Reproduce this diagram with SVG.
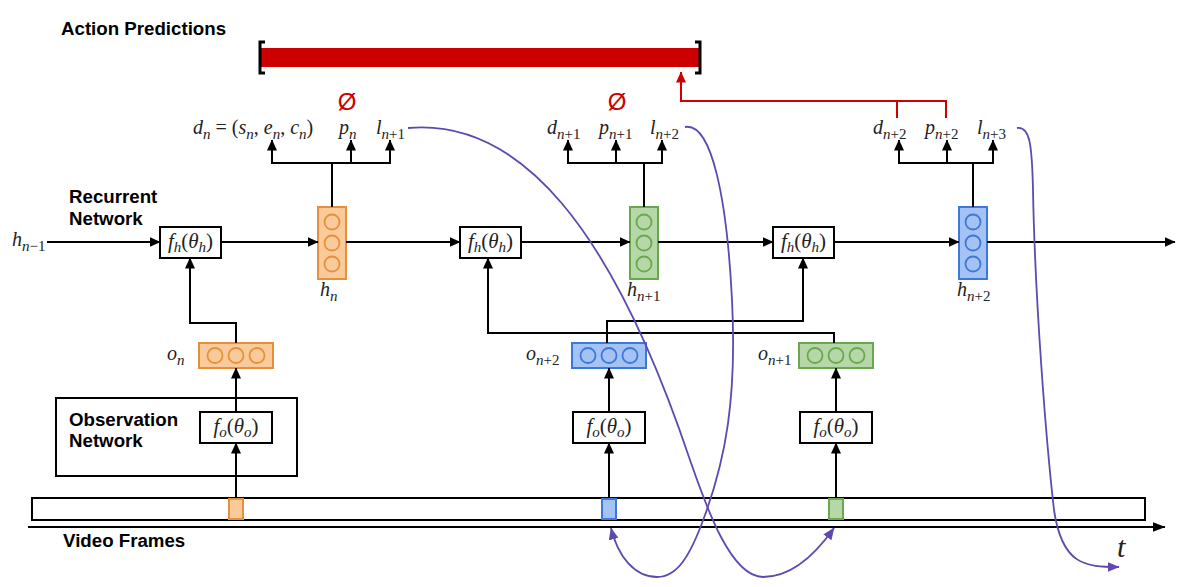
<svg xmlns="http://www.w3.org/2000/svg" width="1193" height="587" viewBox="0 0 1193 587">
<defs>
<style>
.bt{font-family:"Liberation Sans",Arial,sans-serif;font-weight:bold;font-size:18.7px;fill:#000}
.m{font-family:"Liberation Serif","Times New Roman",serif;font-size:20px;fill:#222}
.bx{font-size:21px}
.i{font-style:italic}
.s{font-size:15px}
.box{fill:#fff;stroke:#000;stroke-width:2}
.ln{fill:none;stroke:#000;stroke-width:2}
.pl{fill:none;stroke:#5f48b0;stroke-width:1.8}
.rd{fill:none;stroke:#cc0000;stroke-width:2}
.or{fill:#f9cb9c;stroke:#e69138;stroke-width:2}
.orc{fill:none;stroke:#e69138;stroke-width:1.8}
.gr{fill:#b6d7a8;stroke:#6aa84f;stroke-width:2}
.grc{fill:none;stroke:#6aa84f;stroke-width:1.8}
.bl{fill:#a4c2f4;stroke:#3c78d8;stroke-width:2}
.blc{fill:none;stroke:#3c78d8;stroke-width:1.8}
.null{font-family:"Liberation Sans",Arial,sans-serif;font-size:24px;fill:#cc0000}
</style>
<marker id="ah" markerUnits="userSpaceOnUse" markerWidth="11" markerHeight="10" refX="10.5" refY="5" orient="auto"><path d="M0,0 L11,5 L0,10 z" fill="#000"/></marker>
<marker id="aht" markerUnits="userSpaceOnUse" markerWidth="13" markerHeight="10" refX="12.5" refY="5" orient="auto"><path d="M0,0 L13,5 L0,10 z" fill="#000"/></marker>
<marker id="ahr" markerUnits="userSpaceOnUse" markerWidth="11" markerHeight="10" refX="10.5" refY="5" orient="auto"><path d="M0,0 L11,5 L0,10 z" fill="#cc0000"/></marker>
<marker id="ahp" markerUnits="userSpaceOnUse" markerWidth="12" markerHeight="10" refX="11.5" refY="5" orient="auto"><path d="M0,0 L12,5 L0,10 z" fill="#5f48b0"/></marker>
</defs>
<rect width="1193" height="587" fill="#fff"/>

<!-- Titles -->
<g id="title-action"><text class="bt" x="61" y="35">Action Predictions</text></g>
<g id="title-recurrent"><text class="bt" x="69" y="203">Recurrent</text><text class="bt" x="69" y="225">Network</text></g>

<!-- Prediction bar -->
<g id="prediction-bar">
<rect x="261" y="48" width="438" height="19" fill="#cc0000"/>
<path d="M265,42 H260 V73 H265" fill="none" stroke="#000" stroke-width="3"/>
<path d="M695,42 H700 V73 H695" fill="none" stroke="#000" stroke-width="3"/>
</g>

<g id="null-1"><text class="null" x="347" y="110" text-anchor="middle">Ø</text></g>
<g id="null-2"><text class="null" x="617" y="110" text-anchor="middle">Ø</text></g>

<!-- Output labels -->
<g id="outputs-n">
<text class="m" x="193" y="134"><tspan class="i">d</tspan><tspan class="s i" dy="5">n</tspan><tspan dy="-5"> = (</tspan><tspan class="i">s</tspan><tspan class="s i" dy="5">n</tspan><tspan dy="-5">, </tspan><tspan class="i">e</tspan><tspan class="s i" dy="5">n</tspan><tspan dy="-5">, </tspan><tspan class="i">c</tspan><tspan class="s i" dy="5">n</tspan><tspan dy="-5">)</tspan></text>
<text class="m" x="339" y="134"><tspan class="i">p</tspan><tspan class="s i" dy="5">n</tspan></text>
<text class="m" x="376" y="134"><tspan class="i">l</tspan><tspan class="s" dy="5"><tspan class="i">n</tspan>+1</tspan></text>
</g>
<g id="outputs-n1">
<text class="m" x="547" y="134"><tspan class="i">d</tspan><tspan class="s" dy="5"><tspan class="i">n</tspan>+1</tspan></text>
<text class="m" x="599" y="134"><tspan class="i">p</tspan><tspan class="s" dy="5"><tspan class="i">n</tspan>+1</tspan></text>
<text class="m" x="650" y="134"><tspan class="i">l</tspan><tspan class="s" dy="5"><tspan class="i">n</tspan>+2</tspan></text>
</g>
<g id="outputs-n2">
<text class="m" x="873" y="134"><tspan class="i">d</tspan><tspan class="s" dy="5"><tspan class="i">n</tspan>+2</tspan></text>
<text class="m" x="925" y="134"><tspan class="i">p</tspan><tspan class="s" dy="5"><tspan class="i">n</tspan>+2</tspan></text>
<text class="m" x="977" y="134"><tspan class="i">l</tspan><tspan class="s" dy="5"><tspan class="i">n</tspan>+3</tspan></text>
</g>

<g id="h-prev"><text class="m" x="12" y="246"><tspan class="i">h</tspan><tspan class="s" dy="5"><tspan class="i">n</tspan>−1</tspan></text></g>

<!-- Recurrent f_h boxes -->
<g id="fh-1"><rect class="box" x="160" y="227" width="61" height="31"/><text class="m bx" x="190.5" y="248" text-anchor="middle"><tspan class="i">f</tspan><tspan class="s i" dy="4">h</tspan><tspan dy="-4">(</tspan><tspan class="i">θ</tspan><tspan class="s i" dy="4">h</tspan><tspan dy="-4">)</tspan></text></g>
<g id="fh-2"><rect class="box" x="460" y="227" width="61" height="31"/><text class="m bx" x="490.5" y="248" text-anchor="middle"><tspan class="i">f</tspan><tspan class="s i" dy="4">h</tspan><tspan dy="-4">(</tspan><tspan class="i">θ</tspan><tspan class="s i" dy="4">h</tspan><tspan dy="-4">)</tspan></text></g>
<g id="fh-3"><rect class="box" x="773" y="227" width="61" height="31"/><text class="m bx" x="803.5" y="248" text-anchor="middle"><tspan class="i">f</tspan><tspan class="s i" dy="4">h</tspan><tspan dy="-4">(</tspan><tspan class="i">θ</tspan><tspan class="s i" dy="4">h</tspan><tspan dy="-4">)</tspan></text></g>

<!-- Hidden states -->
<g id="h-n"><rect class="or" x="318" y="207" width="28" height="72"/><circle class="orc" cx="332" cy="222" r="7.5"/><circle class="orc" cx="332" cy="243" r="7.5"/><circle class="orc" cx="332" cy="264" r="7.5"/>
<text class="m" x="320" y="296"><tspan class="i">h</tspan><tspan class="s i" dy="5">n</tspan></text></g>
<g id="h-n1"><rect class="gr" x="630" y="207" width="28" height="72"/><circle class="grc" cx="644" cy="222" r="7.5"/><circle class="grc" cx="644" cy="243" r="7.5"/><circle class="grc" cx="644" cy="264" r="7.5"/>
<text class="m" x="627" y="296"><tspan class="i">h</tspan><tspan class="s" dy="5"><tspan class="i">n</tspan>+1</tspan></text></g>
<g id="h-n2"><rect class="bl" x="959" y="207" width="28" height="72"/><circle class="blc" cx="973" cy="222" r="7.5"/><circle class="blc" cx="973" cy="243" r="7.5"/><circle class="blc" cx="973" cy="264" r="7.5"/>
<text class="m" x="957" y="296"><tspan class="i">h</tspan><tspan class="s" dy="5"><tspan class="i">n</tspan>+2</tspan></text></g>

<!-- Observations -->
<g id="o-n"><rect class="or" x="199" y="343" width="74" height="25"/><circle class="orc" cx="215" cy="355.5" r="7.5"/><circle class="orc" cx="236" cy="355.5" r="7.5"/><circle class="orc" cx="257" cy="355.5" r="7.5"/>
<text class="m" x="167" y="360"><tspan class="i">o</tspan><tspan class="s i" dy="5">n</tspan></text></g>
<g id="o-n2"><rect class="bl" x="572" y="343" width="74" height="25"/><circle class="blc" cx="588" cy="355.5" r="7.5"/><circle class="blc" cx="609" cy="355.5" r="7.5"/><circle class="blc" cx="630" cy="355.5" r="7.5"/>
<text class="m" x="526" y="360"><tspan class="i">o</tspan><tspan class="s" dy="5"><tspan class="i">n</tspan>+2</tspan></text></g>
<g id="o-n1"><rect class="gr" x="799" y="343" width="74" height="25"/><circle class="grc" cx="815" cy="355.5" r="7.5"/><circle class="grc" cx="836" cy="355.5" r="7.5"/><circle class="grc" cx="857" cy="355.5" r="7.5"/>
<text class="m" x="758" y="360"><tspan class="i">o</tspan><tspan class="s" dy="5"><tspan class="i">n</tspan>+1</tspan></text></g>

<!-- Observation network -->
<g id="observation-network"><rect class="box" x="56" y="398" width="241" height="78"/><text class="bt" x="69" y="426">Observation</text><text class="bt" x="69" y="447">Network</text></g>
<g id="fo-1"><rect class="box" x="200" y="412" width="72" height="31"/><text class="m bx" x="236" y="433" text-anchor="middle"><tspan class="i">f</tspan><tspan class="s i" dy="4">o</tspan><tspan dy="-4">(</tspan><tspan class="i">θ</tspan><tspan class="s i" dy="4">o</tspan><tspan dy="-4">)</tspan></text></g>
<g id="fo-2"><rect class="box" x="573" y="412" width="72" height="31"/><text class="m bx" x="609" y="433" text-anchor="middle"><tspan class="i">f</tspan><tspan class="s i" dy="4">o</tspan><tspan dy="-4">(</tspan><tspan class="i">θ</tspan><tspan class="s i" dy="4">o</tspan><tspan dy="-4">)</tspan></text></g>
<g id="fo-3"><rect class="box" x="800" y="412" width="72" height="31"/><text class="m bx" x="836" y="433" text-anchor="middle"><tspan class="i">f</tspan><tspan class="s i" dy="4">o</tspan><tspan dy="-4">(</tspan><tspan class="i">θ</tspan><tspan class="s i" dy="4">o</tspan><tspan dy="-4">)</tspan></text></g>

<!-- Video frames -->
<g id="video-frames">
<rect class="box" x="32" y="498" width="1113" height="22"/>
<rect class="or" x="229" y="499" width="14" height="20"/>
<rect class="bl" x="602" y="499" width="14" height="20"/>
<rect class="gr" x="829" y="499" width="14" height="20"/>
<text class="bt" x="63" y="547">Video Frames</text>
</g>
<g id="time-label"><text class="m i" x="1117" y="557" style="font-size:30px">t</text></g>

<!-- Connectors -->
<g id="connectors">
<path class="ln" d="M47,242 H160" marker-end="url(#ah)"/>
<path class="ln" d="M221,242 H318" marker-end="url(#ah)"/>
<path class="ln" d="M346,242 H460" marker-end="url(#ah)"/>
<path class="ln" d="M521,242 H630" marker-end="url(#ah)"/>
<path class="ln" d="M658,242 H773" marker-end="url(#ah)"/>
<path class="ln" d="M834,242 H959" marker-end="url(#ah)"/>
<path class="ln" d="M987,242 H1175" marker-end="url(#ah)"/>

<path class="ln" d="M332,207 V163 M271,163 H391"/>
<path class="ln" d="M272,164 V140" marker-end="url(#ah)"/>
<path class="ln" d="M351,164 V140" marker-end="url(#ah)"/>
<path class="ln" d="M390,164 V140" marker-end="url(#ah)"/>

<path class="ln" d="M644,207 V163 M567,163 H663"/>
<path class="ln" d="M568,164 V140" marker-end="url(#ah)"/>
<path class="ln" d="M616,164 V140" marker-end="url(#ah)"/>
<path class="ln" d="M662,164 V140" marker-end="url(#ah)"/>

<path class="ln" d="M973,207 V163 M898,163 H994"/>
<path class="ln" d="M899,164 V140" marker-end="url(#ah)"/>
<path class="ln" d="M947,164 V140" marker-end="url(#ah)"/>
<path class="ln" d="M993,164 V140" marker-end="url(#ah)"/>

<path class="ln" d="M236,343 V323 H190 V258" marker-end="url(#ah)"/>
<path class="ln" d="M834,343 V333 H488 V258" marker-end="url(#ah)"/>
<path class="ln" d="M607,343 V321 H803 V258" marker-end="url(#ah)"/>

<path class="ln" d="M236,412 V368" marker-end="url(#ah)"/>
<path class="ln" d="M609,412 V368" marker-end="url(#ah)"/>
<path class="ln" d="M836,412 V368" marker-end="url(#ah)"/>
<path class="ln" d="M236,498 V443" marker-end="url(#ah)"/>
<path class="ln" d="M609,498 V443" marker-end="url(#ah)"/>
<path class="ln" d="M836,498 V443" marker-end="url(#ah)"/>

<path class="ln" d="M28,527 H1165" marker-end="url(#aht)"/>

<path class="rd" d="M946,118 V101 H681 V72" marker-end="url(#ahr)"/>
<path class="rd" d="M897,101 V118"/>

<path class="pl" d="M408,128 C520,118 612,228 690,460 C705,503 730,577 763,577 C791,577 815,555 834,528" marker-end="url(#ahp)"/>
<path class="pl" d="M685,127 C712,122 727,200 732,300 C737,400 725,460 705,515 C690,557 677,577 657,577 C635,577 618,557 611,528" marker-end="url(#ahp)"/>
<path class="pl" d="M1017,128 C1030,126 1032,145 1033,190 C1035,300 1046,440 1054,510 C1062,565 1085,567 1119,567" marker-end="url(#ahp)"/>
</g>
</svg>
